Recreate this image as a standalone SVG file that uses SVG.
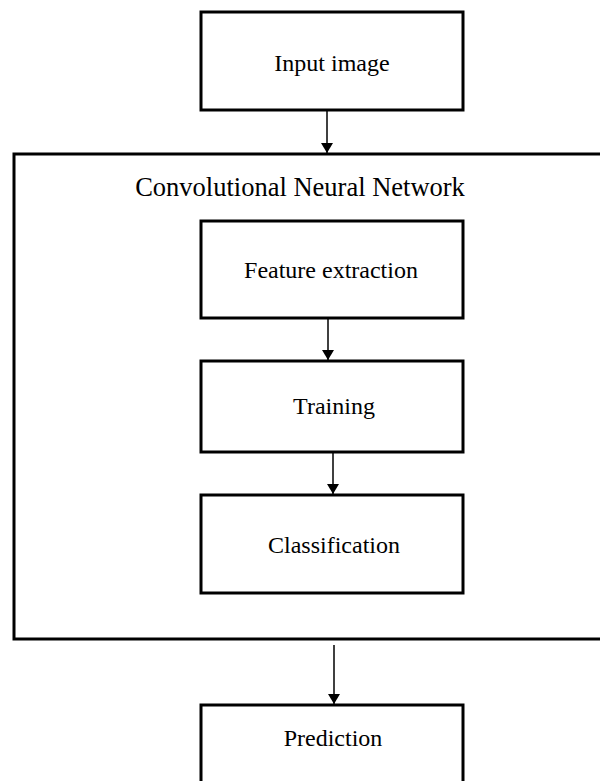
<svg xmlns="http://www.w3.org/2000/svg" width="600" height="781" viewBox="0 0 600 781">
<style>
.box{fill:#fff;stroke:#000;stroke-width:3}
.outer{fill:none;stroke:#000;stroke-width:3}
.lbl{font-family:"Liberation Serif","Times New Roman",serif;font-size:24px;fill:#000;text-anchor:middle}
.title{font-family:"Liberation Serif","Times New Roman",serif;font-size:26.5px;fill:#000;text-anchor:middle}
.conn{stroke:#000;stroke-width:1.5;fill:none}
</style>
<defs>
<marker id="ah" markerWidth="10" markerHeight="12" refX="10" refY="6" orient="auto" markerUnits="userSpaceOnUse" viewBox="0 0 10 12">
<path d="M0,0 L10,6 L0,12 Z" fill="#000"/>
</marker>
</defs>
<rect width="600" height="781" fill="#fff"/>
<g id="cnn">
<rect class="outer" x="14" y="154" width="600" height="485"/>
<text class="title" x="300" y="196">Convolutional Neural Network</text>
</g>
<g id="input">
<rect class="box" x="201" y="12" width="262" height="98"/>
<text class="lbl" x="332" y="71">Input image</text>
</g>
<g id="feature">
<rect class="box" x="201" y="221" width="262" height="97"/>
<text class="lbl" x="331" y="278">Feature extraction</text>
</g>
<g id="training">
<rect class="box" x="201" y="361" width="262" height="91"/>
<text class="lbl" x="334" y="414">Training</text>
</g>
<g id="classification">
<rect class="box" x="201" y="495" width="262" height="98"/>
<text class="lbl" x="334" y="553">Classification</text>
</g>
<g id="prediction">
<rect class="box" x="201" y="705" width="262" height="100"/>
<text class="lbl" x="333" y="746">Prediction</text>
</g>
<g id="connectors">
<line class="conn" x1="327" y1="111" x2="327" y2="153" marker-end="url(#ah)"/>
<line class="conn" x1="328" y1="319" x2="328" y2="360" marker-end="url(#ah)"/>
<line class="conn" x1="333" y1="453" x2="333" y2="494" marker-end="url(#ah)"/>
<line class="conn" x1="334" y1="645" x2="334" y2="704" marker-end="url(#ah)"/>
</g>
</svg>
